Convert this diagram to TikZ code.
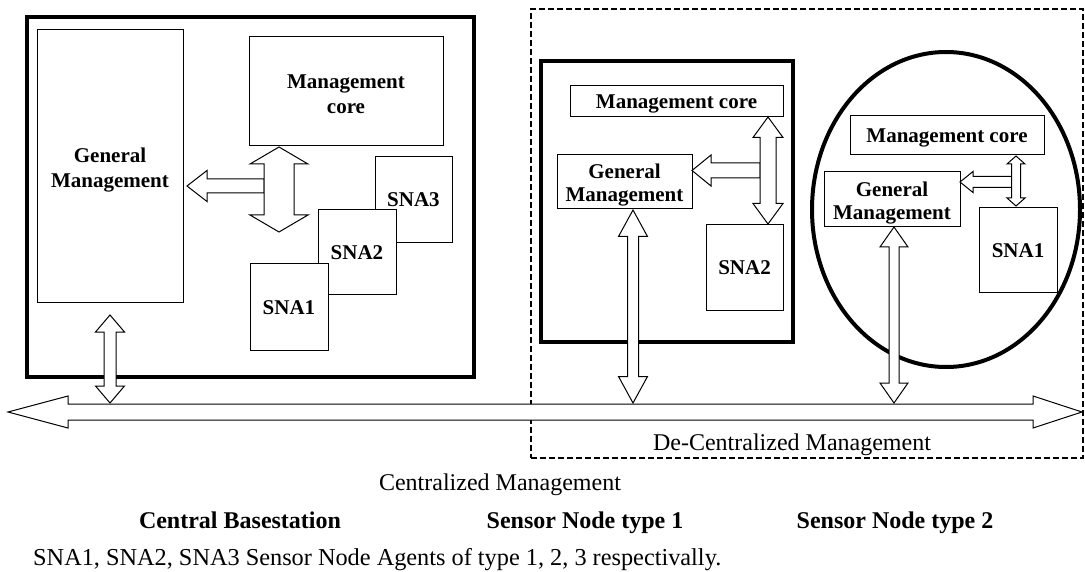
\documentclass[tikz,border=0pt]{standalone}
\usepackage{fontspec}
\setmainfont{Liberation Serif}
\usetikzlibrary{shapes.geometric}
\tikzset{
  thinbox/.style={draw, line width=1pt, fill=white, inner sep=0pt, align=center, font=\fontsize{21}{23}\selectfont\bfseries},
  oneline/.style={text height=14pt, text depth=0pt},
  thickbox/.style={draw, line width=4pt, inner sep=0pt},
  blockarrow/.style={draw, fill=white, line width=1pt, line join=miter},
  lbl/.style={inner sep=0pt, anchor=base, font=\fontsize{24}{26}\selectfont},
  blbl/.style={inner sep=0pt, anchor=base, font=\fontsize{24}{26}\selectfont\bfseries},
}
% two-line box label: line spacing, downward shift, first line, second line
\newcommand\twolines[4]{\begin{tabular}{@{}c@{}}\rule{0pt}{\dimexpr16.1pt+2\dimexpr#2\relax\relax}#3\\[\dimexpr#1-23pt\relax]#4\end{tabular}}
% vertical double block arrow: x, ytop, ybottom, shaft half width, head half width, head length
\newcommand\vdarr[6]{\draw[blockarrow] ({#1-#5},{#2+#6}) -- (#1,#2) -- ({#1+#5},{#2+#6}) -- ({#1+#4},{#2+#6}) -- ({#1+#4},{#3-#6}) -- ({#1+#5},{#3-#6}) -- (#1,#3) -- ({#1-#5},{#3-#6}) -- ({#1-#4},{#3-#6}) -- ({#1-#4},{#2+#6}) -- cycle;}
% left block arrow: tip x, y, head base x, head half height, shaft half height, shaft end x
\newcommand\larr[6]{\draw[blockarrow] (#1,#2) -- (#3,{#2-#4}) -- (#3,{#2-#5}) -- (#6,{#2-#5}) -- (#6,{#2+#5}) -- (#3,{#2+#5}) -- (#3,{#2+#4}) -- cycle;}
\begin{document}
\begin{tikzpicture}[x=1pt,y=-1pt]
\useasboundingbox (0,0) rectangle (1085,572);
% de-centralized dashed region
\node[draw, line width=1.2pt, dash pattern=on 6pt off 3pt, minimum width=552pt, minimum height=449pt, inner sep=0pt] (dec) at (807,233.5) {};
% central basestation
\node[thickbox, minimum width=447pt, minimum height=360pt] (B0) at (250.5,197) {};
\node[thinbox, minimum width=146pt, minimum height=273pt] (GM0) at (110,166.5) {\twolines{25pt}{4.4pt}{General}{Management}};
\node[thinbox, minimum width=194pt, minimum height=109pt] (MC0) at (346,91.5) {\twolines{25pt}{5.4pt}{Management}{core}};
\node[thinbox, oneline, minimum width=77pt, minimum height=86pt] (S3) at (413.5,200) {SNA3};
\node[thinbox, oneline, minimum width=78pt, minimum height=85pt] (S2) at (357,252.5) {SNA2};
\node[thinbox, oneline, minimum width=78pt, minimum height=86pt] (S1) at (289,307) {SNA1};
\larr{187}{186}{207}{15.5}{7}{264}
\vdarr{279}{147}{232}{15}{29}{17}
% sensor node type 1
\node[thickbox, minimum width=252pt, minimum height=281pt] (B1) at (667,201.5) {};
\node[thinbox, oneline, minimum width=213pt, minimum height=31pt] (MC1) at (676.5,101.5) {Management core};
\node[thinbox, minimum width=135pt, minimum height=54pt] (GM1) at (624.5,182) {\twolines{23pt}{3.9pt}{General}{Management}};
\node[thinbox, oneline, minimum width=77pt, minimum height=86pt] (S2b) at (744.5,268) {SNA2};
\larr{692}{170.5}{711}{15.5}{7.5}{760}
\vdarr{768}{117}{224}{8}{15}{20.5}
% sensor node type 2
\node[draw, ellipse, line width=4pt, minimum width=268pt, minimum height=315pt, inner sep=0pt] (E) at (946,209.5) {};
\node[thinbox, oneline, minimum width=194pt, minimum height=39pt] (MC2) at (947,135.5) {Management core};
\node[thinbox, minimum width=136pt, minimum height=55pt] (GM2) at (892,199.5) {\twolines{23pt}{3.9pt}{General}{Management}};
\node[thinbox, oneline, minimum width=78pt, minimum height=85pt] (S1b) at (1018,250.5) {SNA1};
\larr{960}{182}{973}{10.5}{5.5}{1011.5}
\vdarr{1016}{156}{206}{4.5}{9}{8}
% bus
\draw[blockarrow] (8,412) -- (68,396) -- (68,404) -- (1033,404) -- (1033,396) -- (1082,412) -- (1033,428) -- (1033,420) -- (68,420) -- (68,428) -- cycle;
\vdarr{110}{315}{403}{6}{14.5}{17}
\vdarr{633}{210}{403}{5.5}{14.5}{26.5}
\vdarr{894}{227}{403}{5}{14}{20}
% labels
\node[lbl] (dcm) at (792,450) {De-Centralized Management};
\node[lbl] (cm) at (500,490) {Centralized Management};
\node[blbl] (cb) at (240,528) {Central Basestation};
\node[blbl] (sn1) at (585,528) {Sensor Node type 1};
\node[blbl] (sn2) at (895,528) {Sensor Node type 2};
\node[inner sep=0pt, anchor=base west, font=\fontsize{24.3}{26}\selectfont] (cap) at (33,565.5) {SNA1, SNA2, SNA3 Sensor Node Agents of type 1, 2, 3 respectivally.};
\end{tikzpicture}
\end{document}
